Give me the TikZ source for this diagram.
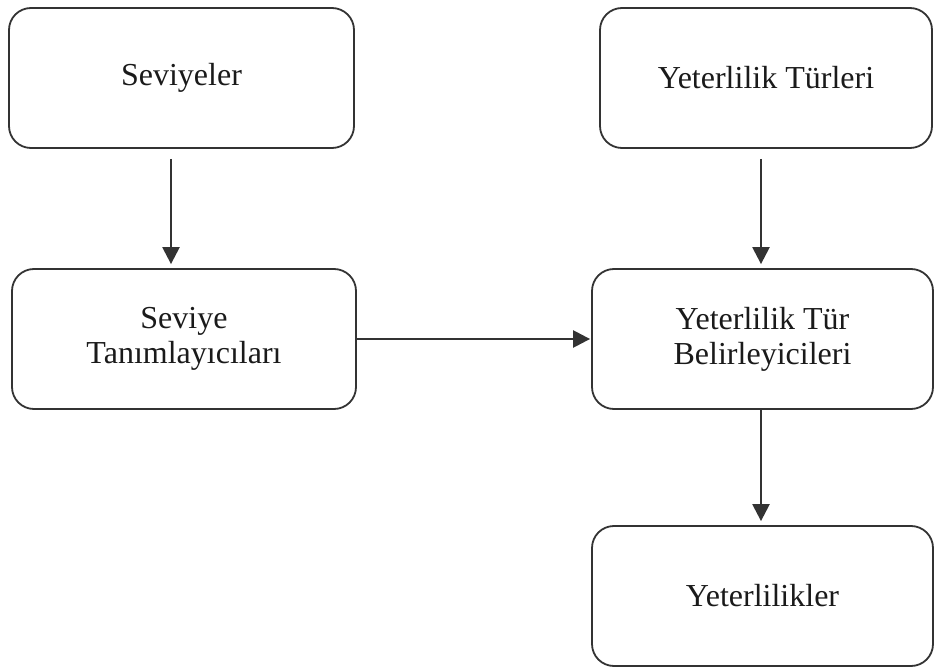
\documentclass[tikz,border=0pt]{standalone}
\usepackage{fontspec}
\setmainfont{Liberation Serif}
\usetikzlibrary{arrows.meta}
\definecolor{ink}{HTML}{333333}
\definecolor{txt}{HTML}{1A1A1A}
\begin{document}
\begin{tikzpicture}[x=1pt,y=-1pt,
  box/.style={draw=ink, line width=1.8pt, rounded corners=22pt, align=center,
    font=\fontsize{32}{35}\selectfont, text=txt, inner sep=0pt, minimum height=140pt},
  arr/.style={draw=ink, line width=2.4pt, -{Triangle[length=17pt,width=17pt]}}]
\useasboundingbox (0,0) rectangle (935,668);
\node[box, minimum width=345pt] (b1) at (181.5,78) {Seviyeler};
\node[box, minimum width=332pt] (b2) at (766,78) {Yeterlilik Türleri};
\node[box, minimum width=344pt] (b3) at (184,339) {Seviye\\Tanımlayıcıları};
\node[box, minimum width=341pt] (b4) at (762.5,339) {Yeterlilik Tür\\Belirleyicileri};
\node[box, minimum width=341pt] (b5) at (762.5,596) {Yeterlilikler};
\draw[arr] ([xshift=-10.5pt,yshift=-10pt]b1.south) -- ([xshift=-13pt,yshift=4pt]b3.north);
\draw[arr] ([xshift=-5pt,yshift=-10pt]b2.south) -- ([xshift=-1.5pt,yshift=4pt]b4.north);
\draw[arr] (b3.east) -- ([xshift=-1pt]b4.west);
\draw[arr] ([xshift=-1.5pt]b4.south) -- ([xshift=-1.5pt,yshift=4pt]b5.north);
\end{tikzpicture}
\end{document}
